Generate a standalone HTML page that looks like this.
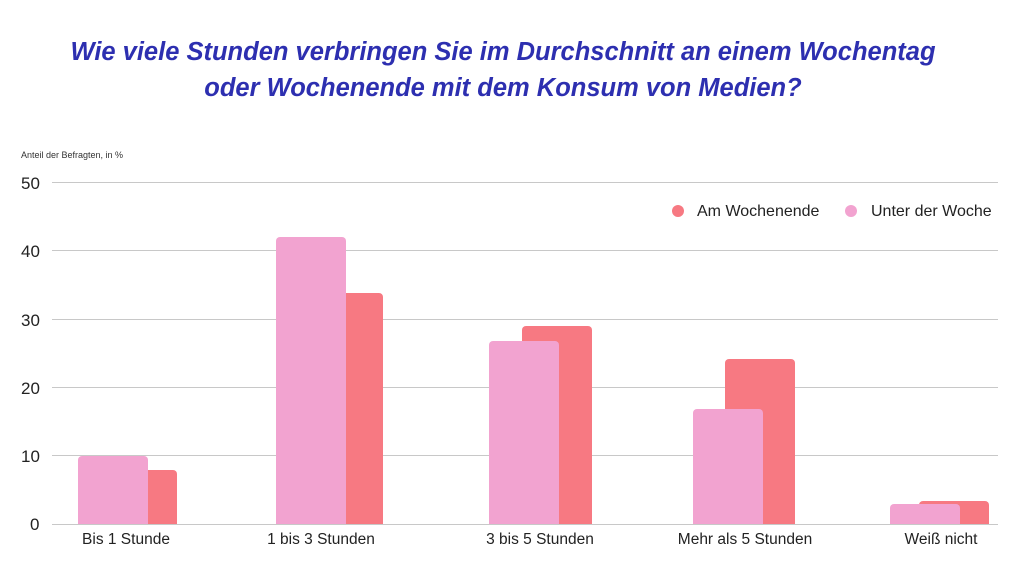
<!DOCTYPE html>
<html><head><meta charset="utf-8"><style>
html,body{margin:0;padding:0;background:#fff;width:1024px;height:576px;overflow:hidden}
svg{display:block;font-family:"Liberation Sans",sans-serif}
</style></head><body>
<svg width="1024" height="576" viewBox="0 0 1024 576">
<g font-size="25.5" font-weight="bold" font-style="italic" fill="#2d2fb0" text-anchor="middle">
<text x="503" y="60">Wie viele Stunden verbringen Sie im Durchschnitt an einem Wochentag</text>
<text x="503" y="96">oder Wochenende mit dem Konsum von Medien?</text>
</g>
<text x="21" y="158" font-size="9" fill="#333">Anteil der Befragten, in %</text>
<g stroke="#c8c8c8" stroke-width="1">
<line x1="52" x2="998" y1="182.5" y2="182.5"/>
<line x1="52" x2="998" y1="250.5" y2="250.5"/>
<line x1="52" x2="998" y1="319.5" y2="319.5"/>
<line x1="52" x2="998" y1="387.5" y2="387.5"/>
<line x1="52" x2="998" y1="455.5" y2="455.5"/>
<line x1="52" x2="998" y1="524.5" y2="524.5"/>
</g>
<g font-size="17" fill="#222">
<text x="21" y="189">50</text>
<text x="21" y="257">40</text>
<text x="21" y="326">30</text>
<text x="21" y="394">20</text>
<text x="21" y="462">10</text>
<text x="30" y="530">0</text>
</g>
<g fill="#f77982">
<path d="M107 524V474a4 4 0 0 1 4-4H173a4 4 0 0 1 4 4V524Z"/>
<path d="M313 524V297a4 4 0 0 1 4-4H379a4 4 0 0 1 4 4V524Z"/>
<path d="M522 524V330a4 4 0 0 1 4-4H588a4 4 0 0 1 4 4V524Z"/>
<path d="M725 524V363a4 4 0 0 1 4-4H791a4 4 0 0 1 4 4V524Z"/>
<path d="M919 524V505a4 4 0 0 1 4-4H985a4 4 0 0 1 4 4V524Z"/>
</g>
<g fill="#f2a3d0">
<path d="M78 524V460a4 4 0 0 1 4-4H144a4 4 0 0 1 4 4V524Z"/>
<path d="M276 524V241a4 4 0 0 1 4-4H342a4 4 0 0 1 4 4V524Z"/>
<path d="M489 524V345a4 4 0 0 1 4-4H555a4 4 0 0 1 4 4V524Z"/>
<path d="M693 524V413a4 4 0 0 1 4-4H759a4 4 0 0 1 4 4V524Z"/>
<path d="M890 524V508a4 4 0 0 1 4-4H956a4 4 0 0 1 4 4V524Z"/>
</g>
<g font-size="15.5" fill="#222" text-anchor="middle">
<text x="126" y="544">Bis 1 Stunde</text>
<text x="321" y="544">1 bis 3 Stunden</text>
<text x="540" y="544">3 bis 5 Stunden</text>
<text x="745" y="544">Mehr als 5 Stunden</text>
<text x="941" y="544">Weiß nicht</text>
</g>
<circle cx="678" cy="211" r="6" fill="#f77982"/>
<circle cx="851" cy="211" r="6" fill="#f2a3d0"/>
<g font-size="16" fill="#222">
<text x="697" y="216">Am Wochenende</text>
<text x="871" y="216">Unter der Woche</text>
</g>
</svg>
</body></html>
